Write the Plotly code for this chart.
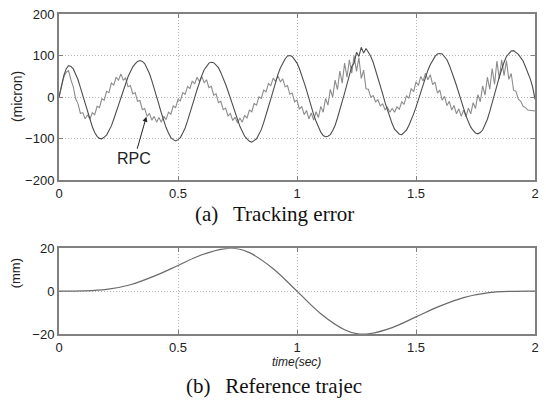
import numpy as np
import plotly.graph_objects as go

# ---- data -------------------------------------------------------------
# sampling grid for the tracking-error records (10 ms steps, 0..2 s)
time_err = np.round(np.arange(201) * 0.01, 2)

# tracking error, conventional controller (micron)
err_conv = [
    0, 28, 52, 68, 76, 74, 68, 55, 42, 23,
    4, -17, -36, -56, -71, -85, -94, -99, -100, -96,
    -91, -80, -69, -53, -38, -19, -2, 16, 32, 49,
    61, 73, 80, 86, 88, 86, 81, 70, 57, 40,
    22, 2, -18, -38, -56, -73, -86, -97, -102, -105,
    -102, -97, -86, -74, -57, -40, -21, -1, 18, 37,
    52, 66, 75, 82, 84, 83, 77, 71, 59, 47,
    31, 15, -3, -20, -38, -54, -70, -82, -94, -100,
    -106, -108, -105, -100, -89, -78, -61, -44, -23, -4,
    17, 36, 55, 70, 83, 92, 99, 100, 98, 91,
    82, 69, 54, 35, 17, -4, -23, -42, -58, -73,
    -84, -92, -95, -94, -90, -80, -68, -50, -32, -10,
    10, 33, 53, 74, 82, 108, 98, 120, 106, 117,
    108, 98, 84, 66, 49, 28, 8, -13, -31, -50,
    -64, -77, -84, -89, -90, -85, -79, -68, -56, -40,
    -24, -5, 12, 31, 48, 65, 78, 90, 98, 104,
    105, 104, 98, 90, 77, 63, 45, 28, 9, -10,
    -28, -45, -59, -72, -80, -86, -88, -85, -79, -67,
    -53, -34, -15, 7, 28, 49, 68, 84, 98, 106,
    111, 112, 107, 103, 95, 87, 73, 60, 44, 25,
    -5,
]

# tracking error with RPC (micron)
err_rpc = [
    0, 22, 48, 60, 64, 42, 25, -4, -16, -39,
    -37, -52, -42, -53, -37, -42, -22, -25, -4, -7,
    14, 11, 34, 29, 48, 41, 56, 41, 46, 25,
    28, 8, 11, -10, -8, -30, -27, -46, -39, -55,
    -46, -60, -49, -60, -46, -54, -36, -41, -21, -25,
    -5, -9, 11, 7, 26, 21, 39, 32, 48, 38,
    50, 35, 42, 23, 26, 5, 8, -13, -10, -30,
    -26, -45, -39, -56, -48, -62, -50, -60, -44, -50,
    -31, -35, -15, -19, 1, -3, 17, 13, 33, 28,
    46, 38, 51, 37, 44, 25, 28, 7, 10, -11,
    -7, -29, -22, -42, -32, -52, -38, -55, -35, -49,
    -22, -36, -3, -19, 19, 0, 41, 18, 63, 34,
    82, 48, 90, 58, 100, 62, 95, 45, 65, 20,
    19, 0, 4, -11, -6, -21, -16, -30, -24, -36,
    -27, -36, -23, -29, -11, -17, 4, -3, 21, 13,
    37, 28, 50, 39, 58, 42, 54, 30, 36, 10,
    17, -7, 2, -20, -10, -31, -20, -40, -28, -46,
    -31, -47, -26, -40, -13, -27, 6, -11, 27, 5,
    48, 19, 69, 31, 87, 44, 90, 52, 88, 43,
    57, 17, 14, -5, -10, -22, -25, -31, -32, -33,
    -33,
]

# reference trajectory (mm)
time_ref = [0, 0.1, 0.2, 0.3, 0.4, 0.5, 0.6, 0.7, 0.75, 0.8, 0.9, 1.0,
            1.1, 1.2, 1.25, 1.3, 1.4, 1.5, 1.6, 1.7, 1.8, 1.9, 2.0]
traj_ref = [0, 0.1, 0.8, 3.0, 7.0, 12.0, 17.0, 19.9, 19.8, 18.0, 10.5, 0,
            -10.5, -18.0, -19.8, -19.9, -17.0, -12.0, -7.0, -3.0, -0.8, -0.1, 0]

x_ticks = [0, 0.5, 1, 1.5, 2]
x_tick_text = ["0", "0.5", "1", "1.5", "2"]
y_ticks_err = [-200, -100, 0, 100, 200]
y_ticks_ref = [-20, 0, 20]

# ---- figure -----------------------------------------------------------
W, H = 546, 403
ML, MR, MT, MB = 59, 7, 9, 69
plot_w = W - ML - MR
plot_h = H - MT - MB


def px_x(px):
    return (px - ML) / plot_w


def px_y(py):
    return (H - MB - py) / plot_h


tick_font = dict(family="Liberation Sans, Arial, sans-serif", size=13, color="#222")
frame = "#808080"
grid = "#b4b4b4"

fig = go.Figure()
fig.add_trace(go.Scatter(x=time_err, y=err_rpc, mode="lines",
                         line=dict(color="#8c8c8c", width=1.1),
                         xaxis="x", yaxis="y", showlegend=False))
fig.add_trace(go.Scatter(x=time_err, y=err_conv, mode="lines",
                         line=dict(color="#4d4d4d", width=1.1),
                         xaxis="x", yaxis="y", showlegend=False))
fig.add_trace(go.Scatter(x=time_ref, y=traj_ref, mode="lines",
                         line=dict(color="#6a6a6a", width=1.2, shape="spline", smoothing=1.0),
                         xaxis="x2", yaxis="y2", showlegend=False))

axis_common = dict(
    showline=True, linecolor=frame, linewidth=2, mirror="ticks",
    ticks="inside", ticklen=4, tickcolor=frame, tickwidth=1,
    showgrid=True, gridcolor=grid, griddash="1px,2px", gridwidth=1,
    zeroline=False, tickfont=tick_font,
)

top_lo = px_y(178)
bot_hi = px_y(247)

fig.update_layout(
    width=W, height=H,
    margin=dict(l=ML, r=MR, t=MT, b=MB),
    paper_bgcolor="white", plot_bgcolor="white",
    xaxis=dict(range=[0, 2], tickvals=x_ticks, ticktext=x_tick_text,
               domain=[0, 1], anchor="y", **axis_common),
    yaxis=dict(range=[-200, 200], tickvals=y_ticks_err,
               domain=[top_lo, 1], anchor="x", **axis_common),
    xaxis2=dict(range=[0, 2], tickvals=x_ticks, ticktext=x_tick_text,
                domain=[0, 1], anchor="y2", **axis_common),
    yaxis2=dict(range=[-20, 20], tickvals=y_ticks_ref,
                domain=[0, bot_hi], anchor="x2", **axis_common),
)

caption_font = dict(family="Liberation Serif, Times New Roman, serif", size=21, color="#111")


def paper_text(text, px, py, font, angle=0):
    fig.add_annotation(text=text, xref="paper", yref="paper",
                       x=px_x(px), y=px_y(py), xanchor="center", yanchor="middle",
                       textangle=angle, showarrow=False, font=font)


paper_text("(micron)", 16, 93,
           dict(family="Liberation Sans, Arial, sans-serif", size=14, color="#222"), -90)
paper_text("(mm)", 16, 272,
           dict(family="Liberation Sans, Arial, sans-serif", size=13, color="#222"), -90)
paper_text("<i>time(sec)</i>", 298, 362,
           dict(family="Liberation Sans, Arial, sans-serif", size=12, color="#222"))
paper_text("(a)\u2002\u2009Tracking error", 276, 212, caption_font)
paper_text("(b)\u2002\u2009Reference trajec", 276, 387, caption_font)

# label pointing at the RPC trace
fig.add_annotation(text="RPC", x=0.367, y=-47, xref="x", yref="y",
                   ax=-12, ay=42, showarrow=True, arrowhead=2, arrowsize=1,
                   arrowwidth=1, arrowcolor="#222",
                   font=dict(family="Liberation Sans, Arial, sans-serif", size=16, color="#222"))

fig.write_html("out.html")
